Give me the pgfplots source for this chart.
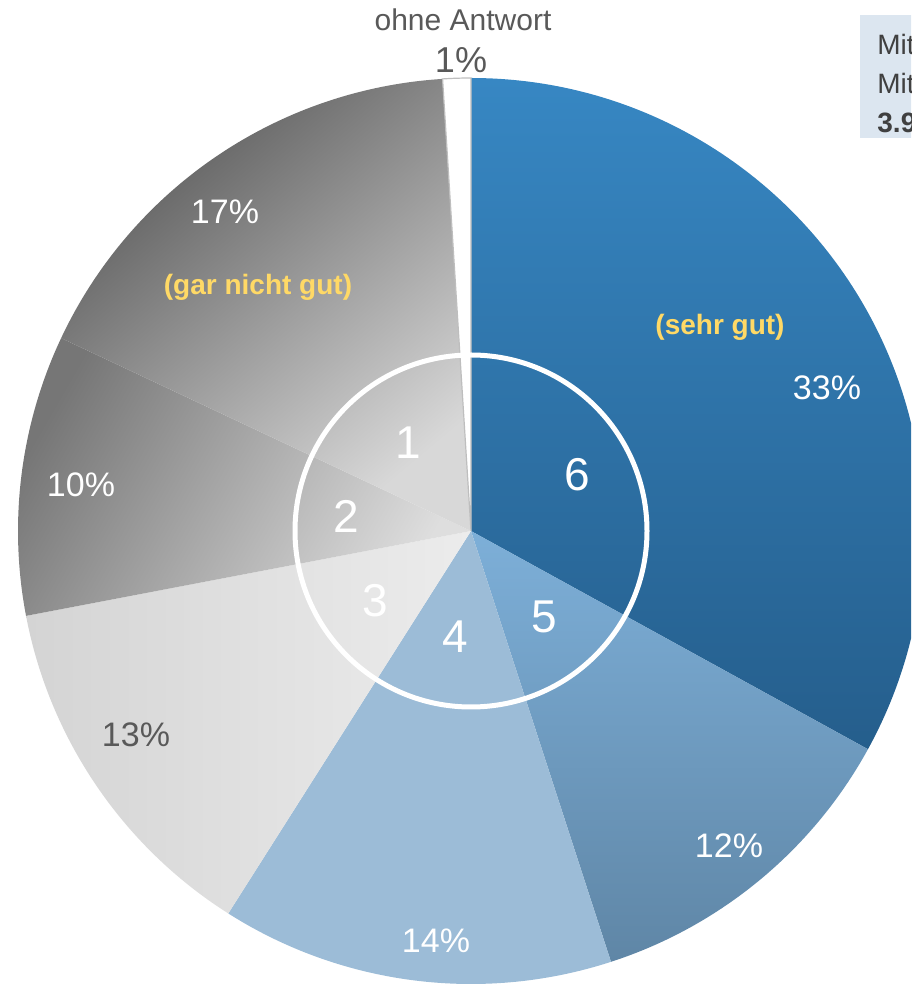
\documentclass[border=0pt]{standalone}
\usepackage{pgfplots}
\pgfplotsset{compat=1.18}
\usepackage{fontspec}
\setmainfont{Liberation Sans}
\definecolor{txtgrey}{HTML}{595959}
\definecolor{lbl}{HTML}{FFD966}
\definecolor{boxbg}{HTML}{DCE6F0}
\definecolor{boxtxt}{HTML}{404040}
\def\cx{471}\def\cy{454}
\def\R{226.5pt}
% slice: #1 cumulative share before, #2 share (percent), #3 style
\newcommand\slice[3]{%
  \pgfmathsetmacro\sa{90-3.6*#1}%
  \pgfmathsetmacro\ea{90-3.6*(#1+#2)}%
  \edef\doslice{\noexpand\path[#3] (axis cs:\cx,\cy) -- ++(\sa:\R) arc[start angle=\sa,end angle=\ea,radius=\R] -- cycle;}%
  \doslice}
\begin{document}
\begin{tikzpicture}
\path[use as bounding box] (0,0) rectangle (455.5pt,492.5pt);
\clip (0,0) rectangle (455.5pt,492.5pt);
\begin{axis}[x=0.5pt,y=0.5pt,xmin=0,xmax=911,ymin=0,ymax=985,
  hide axis, anchor=origin, at={(0,0)}, clip=false]
% values: 6=33, 5=12, 4=14, 3=13, 2=10, 1=17, ohne Antwort=1
\slice{0}{33}{top color={rgb,255:red,55;green,135;blue,195},bottom color={rgb,255:red,37;green,94;blue,140}}
\slice{33}{12}{top color={rgb,255:red,125;green,175;blue,216},bottom color={rgb,255:red,95;green,134;blue,166}}
\slice{45}{14}{fill={rgb,255:red,156;green,188;blue,215}}
\slice{59}{13}{left color={rgb,255:red,212;green,212;blue,212},right color={rgb,255:red,236;green,236;blue,236}}
\slice{72}{10}{top color={rgb,255:red,118;green,118;blue,118},bottom color={rgb,255:red,222;green,222;blue,222},shading angle=60}
\slice{82}{17}{top color={rgb,255:red,88;green,88;blue,88},bottom color={rgb,255:red,216;green,216;blue,216},shading angle=40}
\slice{99}{1}{fill=white,draw={rgb,255:red,190;green,190;blue,190},line width=0.6pt}
\draw[white,line width=2.5pt] (axis cs:\cx,\cy) circle[radius=88pt];
% percentages
\node[txtgrey,font=\fontsize{15}{17}\selectfont] at (axis cs:463,965) {ohne Antwort};
\node[txtgrey,font=\fontsize{18}{20}\selectfont] at (axis cs:461,925) {1\%};
\node[white,font=\fontsize{17}{20}\selectfont] at (axis cs:225,773) {17\%};
\node[white,font=\fontsize{17}{20}\selectfont] at (axis cs:827,597) {33\%};
\node[white,font=\fontsize{17}{20}\selectfont] at (axis cs:81,500) {10\%};
\node[txtgrey,font=\fontsize{17}{20}\selectfont] at (axis cs:136,250) {13\%};
\node[white,font=\fontsize{17}{20}\selectfont] at (axis cs:729,139) {12\%};
\node[white,font=\fontsize{17}{20}\selectfont] at (axis cs:436,44) {14\%};
\node[lbl,font=\bfseries\fontsize{14}{16}\selectfont] at (axis cs:258,698) {(gar nicht gut)};
\node[lbl,font=\bfseries\fontsize{14}{16}\selectfont] at (axis cs:720,658) {(sehr gut)};
% inner numbers
\node[white,font=\fontsize{23}{26}\selectfont] at (axis cs:408,542) {1};
\node[white,font=\fontsize{23}{26}\selectfont] at (axis cs:346,469) {2};
\node[white,font=\fontsize{23}{26}\selectfont] at (axis cs:375,384) {3};
\node[white,font=\fontsize{23}{26}\selectfont] at (axis cs:455,348) {4};
\node[white,font=\fontsize{23}{26}\selectfont] at (axis cs:544,368) {5};
\node[white,font=\fontsize{23}{26}\selectfont] at (axis cs:577,510) {6};
% info box (cut at right edge, as in the original)
\fill[boxbg] (axis cs:860,847) rectangle (axis cs:1000,970);
\node[boxtxt,anchor=west,inner sep=0pt,font=\fontsize{14}{16}\selectfont] at (axis cs:877,940) {Mittelwert};
\node[boxtxt,anchor=west,inner sep=0pt,font=\fontsize{14}{16}\selectfont] at (axis cs:877,901) {Mittel};
\node[boxtxt,anchor=west,inner sep=0pt,font=\bfseries\fontsize{14}{16}\selectfont] at (axis cs:877,862) {3.9};
\end{axis}
\end{tikzpicture}
\end{document}
